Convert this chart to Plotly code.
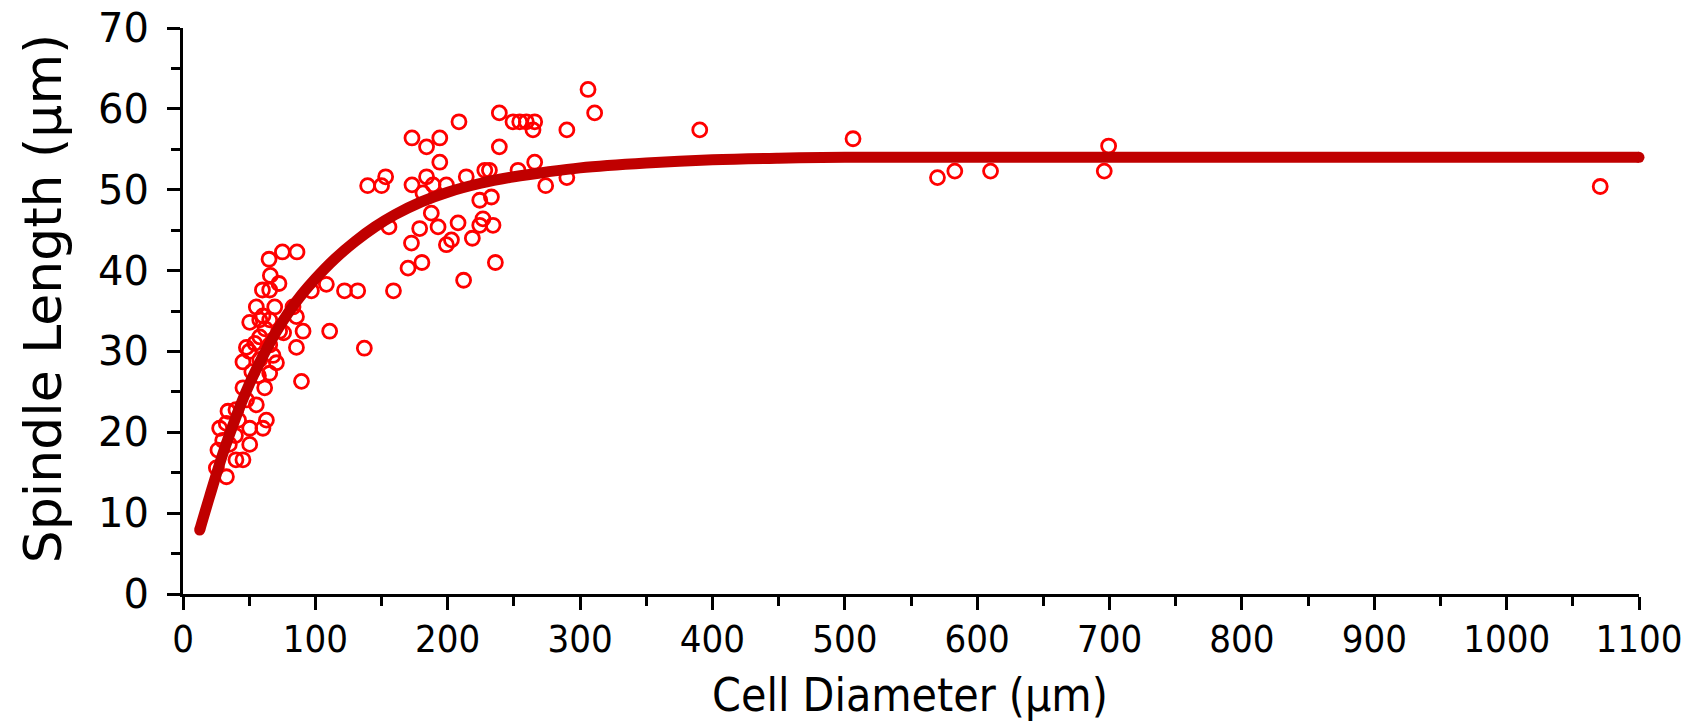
import plotly.graph_objects as go

# Measured data points: cell diameter (µm) vs spindle length (µm)
cell_diameter = [
    65.0, 75.1, 86.1, 66.0, 72.5, 60.0, 65.5, 55.4, 69.3, 83.1,
    50.4, 58.0, 60.4, 65.5, 73.0, 76.0, 90.7, 85.7, 47.9, 54.2,
    58.0, 65.5, 85.7, 45.3, 58.0, 70.6, 65.5, 89.5, 45.3, 61.7,
    55.4, 34.0, 40.0, 27.7, 32.7, 50.4, 63.0, 60.4, 26.4, 50.4,
    45.3, 25.2, 32.8, 40.0, 39.6, 50.0, 62.0, 68.0, 35.0, 30.0,
    42.0, 48.0, 57.0, 52.0,
    97.0, 108.3, 122.0, 132.0, 110.8, 137.0,
    139.5, 150.0, 153.1, 155.6, 159.0, 170.0, 172.6, 173.0, 173.0, 180.5,
    178.8, 181.3, 184.0, 184.0, 188.9, 187.6, 192.7, 194.0, 194.0, 199.0,
    199.0, 202.8, 207.8, 208.5, 212.0, 214.0, 218.6, 224.2, 226.6, 224.2,
    228.0, 231.5, 233.0, 234.2, 236.0, 239.0, 239.0, 249.3, 254.4, 259.4,
    265.7, 264.4, 253.1, 265.7, 274.0, 290.0, 290.0, 306.0, 311.0, 390.4,
    506.2, 570.0, 583.1, 610.1, 696.0, 699.3, 1070.7,
]
spindle_length = [
    41.4, 42.3, 42.3, 39.4, 38.4, 37.6, 37.6, 35.5, 35.5, 35.5,
    33.6, 33.9, 34.4, 33.9, 32.5, 32.3, 32.5, 34.3, 30.5, 31.0,
    31.8, 30.8, 30.5, 28.7, 29.0, 28.6, 27.3, 26.3, 25.5, 25.5,
    23.4, 22.6, 22.8, 20.5, 21.1, 20.5, 21.5, 20.5, 17.8, 18.5,
    16.6, 15.6, 14.5, 16.6, 19.6, 30.0, 32.8, 29.5, 18.5, 19.0,
    21.5, 24.0, 27.0, 27.5,
    37.5, 38.3, 37.5, 37.5, 32.5, 30.4,
    50.5, 50.5, 51.6, 45.4, 37.5, 40.3, 43.4, 50.6, 56.4, 41.0,
    45.2, 49.6, 51.6, 55.3, 50.6, 47.1, 45.4, 56.4, 53.4, 50.6,
    43.2, 43.8, 45.9, 58.4, 38.8, 51.6, 44.0, 48.7, 46.4, 45.6,
    52.4, 52.4, 49.1, 45.6, 41.0, 59.5, 55.3, 58.4, 58.4, 58.4,
    58.4, 57.4, 52.4, 53.4, 50.5, 57.4, 51.5, 62.4, 59.5, 57.4,
    56.3, 51.5, 52.3, 52.3, 52.3, 55.4, 50.4,
]

# Fitted curve
fit_x = [12.6, 20, 30, 40, 50, 60, 70, 80, 90, 100, 115, 130, 145, 160, 180,
         200, 225, 250, 275, 300, 350, 400, 450, 500, 700, 900, 1100]
fit_y = [7.9, 12.0, 17.3, 21.9, 25.9, 29.3, 32.3, 34.9, 37.1, 39.0, 41.5, 43.6,
         45.4, 46.9, 48.5, 49.7, 50.8, 51.6, 52.2, 52.7, 53.3, 53.7, 53.9, 54.0,
         54.0, 54.0, 54.0]

x_ticks = list(range(0, 1101, 100))
y_ticks = list(range(0, 71, 10))

fig = go.Figure()
fig.add_trace(go.Scatter(
    x=cell_diameter, y=spindle_length, mode="markers",
    marker=dict(symbol="circle-open", size=14, color="#FF0000",
                line=dict(color="#FF0000", width=2.8)),
    showlegend=False, cliponaxis=False,
))
fig.add_trace(go.Scatter(
    x=fit_x, y=fit_y, mode="lines",
    line=dict(color="#C00000", width=11, shape="spline", smoothing=1),
    showlegend=False,
))
fig.add_trace(go.Scatter(
    x=[fit_x[0], fit_x[-1]], y=[fit_y[0], fit_y[-1]], mode="markers",
    marker=dict(color="#C00000", size=11), showlegend=False, cliponaxis=False,
))

axis_common = dict(
    showline=True, linewidth=3, linecolor="black", mirror=False,
    showgrid=False, zeroline=False, ticks="outside", ticklen=13, tickwidth=3,
    tickcolor="black", automargin=False,
)
condensed = "DejaVu Sans Condensed, Liberation Sans Narrow, DejaVu Sans"
fig.update_xaxes(
    range=[0, 1100], tickvals=x_ticks, ticktext=[str(v) for v in x_ticks],
    tickfont=dict(family=condensed, size=38, color="black"),
    minor=dict(tickvals=list(range(50, 1100, 100)), ticks="outside", ticklen=9,
               tickwidth=3, tickcolor="black"),
    ticklabelstandoff=-4,
    **axis_common,
)
fig.update_yaxes(
    range=[0, 70], tickvals=y_ticks, ticktext=[str(v) for v in y_ticks],
    tickfont=dict(family="DejaVu Sans, Verdana", size=40, color="black"),
    minor=dict(tickvals=list(range(5, 70, 10)), ticks="outside", ticklen=9,
               tickwidth=3, tickcolor="black"),
    ticklabelstandoff=10,
    **axis_common,
)

fig.add_annotation(
    text="Cell Diameter (µm)", xref="paper", yref="paper", x=0.499, y=-0.179,
    xanchor="center", yanchor="middle", showarrow=False,
    font=dict(family=condensed, size=46, color="black"),
)
fig.add_annotation(
    text="Spindle Length (µm)", xref="paper", yref="paper", x=-0.096, y=0.523,
    xanchor="center", yanchor="middle", showarrow=False, textangle=-90,
    font=dict(family="DejaVu Sans, Verdana", size=52, color="black"),
)

fig.update_layout(
    width=1698, height=724,
    margin=dict(l=183, r=59, t=28, b=130),
    paper_bgcolor="white", plot_bgcolor="white",
)
fig.write_html(
    "out.html",
    config={"displayModeBar": False},
    post_script="document.body.style.margin='0';document.body.style.overflow='hidden';",
)
